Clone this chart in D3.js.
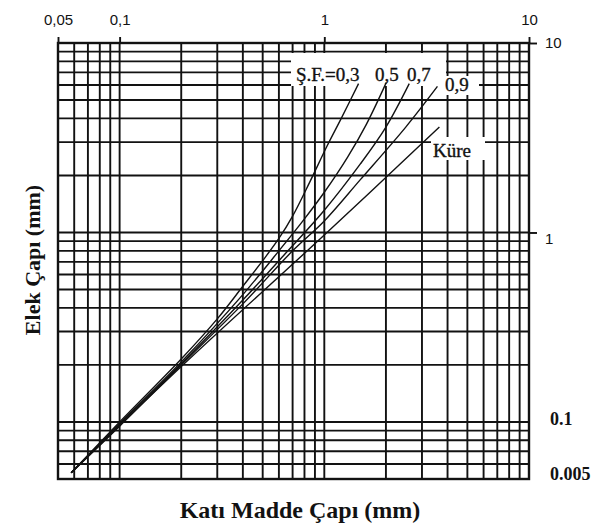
<!DOCTYPE html>
<html>
<head>
<meta charset="utf-8">
<script src="https://cdn.jsdelivr.net/npm/d3@7/dist/d3.min.js"></script>
<style>
  html, body { margin: 0; padding: 0; background: #fff; }
  svg { display: block; }
</style>
</head>
<body>
<script>
// Axis extents (log-log sieve chart)
const xDomain = [0.05, 10];
const yDomain = [0.05, 10];

// Top axis tick values and their labels
const xTickValues = [0.05, 0.1, 1, 10];
const xTickLabels = ["0,05", "0,1", "1", "10"];

// Right axis labels
const yTickValuesTop = [10, 1];
const yTickLabelsTop = ["10", "1"];
const yTickValuesBold = [0.1, 0.05];
const yTickLabelsBold = ["0.1", "0.005"];

// Curve labels (shape factor Ş.F. and sphere)
const seriesNames = ["0,3", "0,5", "0,7", "0,9", "Küre"];

// Particle diameter (mm) -> sieve diameter (mm) for each shape factor
const sf03 = [[0.058,0.054],[0.1,0.1],[0.2,0.215],[0.3,0.35],[0.4,0.52],[0.5,0.71],[0.6,0.93],[0.7,1.22],[0.85,1.85],[1.03,2.85],[1.21,4.0],[1.47,6.1]];
const sf05 = [[0.058,0.054],[0.1,0.098],[0.2,0.207],[0.4,0.47],[0.6,0.8],[0.8,1.18],[1.0,1.63],[1.3,2.5],[1.6,3.7],[2.01,6.2]];
const sf07 = [[0.058,0.054],[0.1,0.097],[0.2,0.203],[0.4,0.44],[0.6,0.71],[1.0,1.31],[1.5,2.3],[2.0,3.6],[2.6,6.1]];
const sf09 = [[0.058,0.054],[0.1,0.095],[0.2,0.2],[0.4,0.42],[0.7,0.8],[1.0,1.15],[1.5,1.9],[2.5,3.6],[3.57,5.9]];
const kure = [[0.058,0.054],[0.2,0.196],[1.0,0.97],[3.65,3.6]];
const seriesData = [sf03, sf05, sf07, sf09, kure];

const W = 593, H = 531;
const svg = d3.select("body").append("svg").attr("width", W).attr("height", H);

const x = d3.scaleLog().domain(xDomain).range([58, 529]);
const y = d3.scaleLog().domain(yDomain).range([479, 43]);

// log grid values: 1..9 x 10^k within domain
function logGrid(dom) {
  const v = [];
  for (let e = -2; e <= 1; e++) {
    for (let m = 1; m <= 9; m++) {
      const val = +(m * Math.pow(10, e)).toPrecision(3);
      if (val >= dom[0] - 1e-9 && val <= dom[1] + 1e-9) v.push(val);
    }
  }
  return v;
}

const ink = "#121212";
const grid = svg.append("g").attr("stroke", ink).attr("stroke-width", 1.9).attr("fill", "none");

// vertical grid lines
grid.selectAll("line.v").data(logGrid(xDomain)).join("line")
  .attr("class", "v")
  .attr("x1", d => x(d)).attr("x2", d => x(d))
  .attr("y1", y(yDomain[1])).attr("y2", y(yDomain[0]));

// horizontal grid lines
grid.selectAll("line.h").data(logGrid(yDomain)).join("line")
  .attr("class", "h")
  .attr("y1", d => y(d)).attr("y2", d => y(d))
  .attr("x1", x(xDomain[0])).attr("x2", x(xDomain[1]));

// frame
svg.append("rect")
  .attr("x", x(xDomain[0])).attr("y", y(yDomain[1]))
  .attr("width", x(xDomain[1]) - x(xDomain[0]))
  .attr("height", y(yDomain[0]) - y(yDomain[1]))
  .attr("fill", "none").attr("stroke", ink).attr("stroke-width", 2.4);

// top axis ticks (extending above frame)
const topAxis = d3.axisTop(x).tickValues(xTickValues).tickSize(6)
  .tickFormat((d, i) => xTickLabels[i]);
const gTop = svg.append("g").attr("transform", `translate(0,${y(yDomain[1])})`).call(topAxis);
gTop.select(".domain").remove();
gTop.selectAll(".tick line").attr("stroke", ink).attr("stroke-width", 1.9);
gTop.selectAll(".tick text")
  .attr("y", -18)
  .attr("font-family", "Liberation Sans, Arial, sans-serif")
  .attr("font-size", 15).attr("fill", ink);

// right axis ticks for 10 and 1
const rightAxis = d3.axisRight(y).tickValues(yTickValuesTop).tickSize(8)
  .tickFormat((d, i) => yTickLabelsTop[i]);
const gRight = svg.append("g").attr("transform", `translate(${x(xDomain[1])},0)`).call(rightAxis);
gRight.select(".domain").remove();
gRight.selectAll(".tick line").attr("stroke", ink).attr("stroke-width", 1.9);
gRight.selectAll(".tick text")
  .attr("x", 16)
  .attr("dy", (d, i) => i === 0 ? "0.32em" : "0.75em")
  .attr("font-family", "Liberation Sans, Arial, sans-serif")
  .attr("font-size", 15).attr("fill", ink);

// bold right labels
svg.append("g").selectAll("text").data(yTickValuesBold).join("text")
  .attr("x", 550)
  .attr("y", (d, i) => y(d) + (i === 0 ? 3 : 1))
  .attr("font-family", "Liberation Serif, Times New Roman, serif")
  .attr("font-weight", "bold").attr("font-size", 18).attr("fill", ink)
  .text((d, i) => yTickLabelsBold[i]);

// white label backgrounds that interrupt the grid
const masks = [
  [291, 53, 155, 33],
  [443, 76, 36, 19],
  [431, 137, 54, 23]
];
svg.append("g").selectAll("rect").data(masks).join("rect")
  .attr("x", d => d[0]).attr("y", d => d[1])
  .attr("width", d => d[2]).attr("height", d => d[3])
  .attr("fill", "#fff");

// curves
const line = d3.line()
  .x(d => x(d[0])).y(d => y(d[1]))
  .curve(d3.curveCatmullRom.alpha(0.5));
svg.append("g").selectAll("path").data(seriesData).join("path")
  .attr("d", line)
  .attr("fill", "none").attr("stroke", ink).attr("stroke-width", 1.4);

// curve labels
const lbl = svg.append("g")
  .attr("font-family", "Liberation Serif, Times New Roman, serif")
  .attr("font-size", 19).attr("fill", ink)
  .attr("stroke", ink).attr("stroke-width", 0.35);
lbl.append("text").attr("x", 296).attr("y", 81).text("Ş.F.=" + seriesNames[0]);
lbl.append("text").attr("x", 375).attr("y", 81).text(seriesNames[1]);
lbl.append("text").attr("x", 407).attr("y", 81).text(seriesNames[2]);
lbl.append("text").attr("x", 445).attr("y", 91).text(seriesNames[3]);
lbl.append("text").attr("x", 433).attr("y", 157).text(seriesNames[4]);

// axis titles
svg.append("text")
  .attr("x", 300).attr("y", 518).attr("text-anchor", "middle")
  .attr("font-family", "Liberation Serif, Times New Roman, serif")
  .attr("font-weight", "bold").attr("font-size", 24).attr("fill", ink)
  .text("Katı Madde Çapı (mm)");

svg.append("text")
  .attr("transform", "translate(40,260) rotate(-90)")
  .attr("text-anchor", "middle")
  .attr("font-family", "Liberation Serif, Times New Roman, serif")
  .attr("font-weight", "bold").attr("font-size", 22).attr("fill", ink)
  .text("Elek Çapı (mm)");
</script>
</body>
</html>
